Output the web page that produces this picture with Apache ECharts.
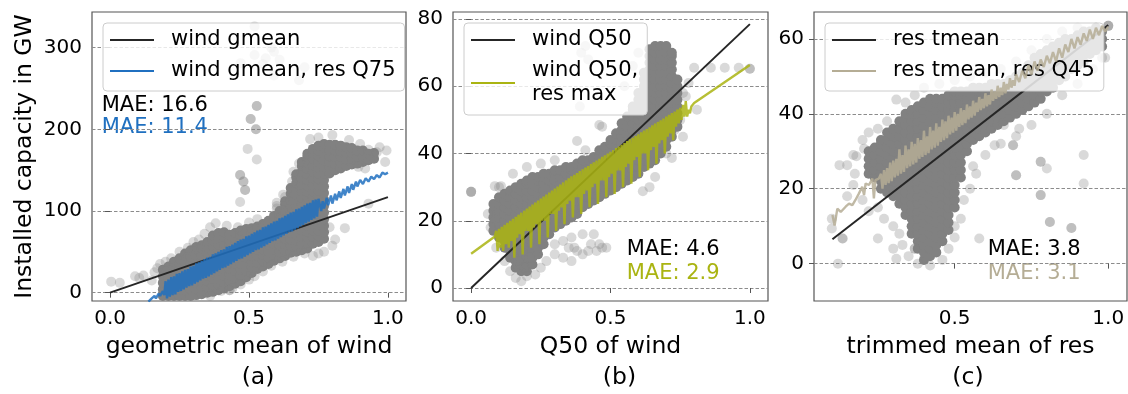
<!DOCTYPE html>
<html>
<head>
<meta charset="utf-8">
<script src="https://cdn.jsdelivr.net/npm/echarts@6/dist/echarts.min.js"></script>
<style>
html, body { margin: 0; padding: 0; background: #fff; }
#chart { width: 1128px; height: 394px; }
</style>
</head>
<body>
<div id="chart"></div>
<script>
// ---- data ----
// fitted straight lines
var blackA = [[0, 0], [1, 117]];
var blackB = [[0, 0], [1, 78.5]];
var blackC = [[0.102, 6.5], [1, 63.7]];

// jagged model lines
var blueA = [[0.138,-11],[0.15,-7],[0.16,-4],[0.165,-7],[0.175,-1],[0.18,-4],[0.19,2],[0.195,-3],
  [0.2,14],[0.205,-7],[0.21,16],[0.215,-5],[0.22,19],[0.225,-3],[0.23,20],[0.235,-2],[0.24,23],[0.245,1],[0.25,24],[0.255,2],
  [0.26,26],[0.265,4],[0.27,28],[0.275,6],[0.28,29],[0.285,8],[0.29,32],[0.295,9],[0.3,33],[0.305,11],
  [0.31,36],[0.315,13],[0.32,37],[0.325,15],[0.33,39],[0.335,17],[0.34,41],[0.345,18],[0.35,43],[0.355,20],
  [0.36,44],[0.365,22],[0.37,47],[0.375,24],[0.38,48],[0.385,26],[0.39,50],[0.395,28],[0.4,52],[0.405,30],
  [0.41,53],[0.415,31],[0.42,56],[0.425,33],[0.43,57],[0.435,35],[0.44,59],[0.445,37],[0.45,61],[0.455,39],
  [0.46,63],[0.465,41],[0.47,65],[0.475,42],[0.48,66],[0.485,44],[0.49,69],[0.495,46],[0.5,70],[0.505,48],
  [0.51,72],[0.515,50],[0.52,74],[0.525,52],[0.53,76],[0.535,53],[0.54,77],[0.545,55],[0.55,80],[0.555,57],
  [0.56,81],[0.565,59],[0.57,83],[0.575,61],[0.58,85],[0.585,63],[0.59,87],[0.595,64],[0.6,88],[0.605,66],
  [0.61,91],[0.615,68],[0.62,92],[0.625,70],[0.63,94],[0.635,72],[0.64,96],[0.645,74],[0.65,98],[0.655,75],
  [0.66,99],[0.665,77],[0.67,102],[0.675,79],[0.68,103],[0.685,81],[0.69,105],[0.695,83],[0.7,107],[0.705,85],
  [0.71,109],[0.715,87],[0.72,110],[0.725,89],[0.73,113],[0.735,91],[0.74,114],[0.745,93],[0.75,115],
  [0.76,100],[0.765,112],[0.77,103],[0.78,116],[0.785,107],[0.795,119],[0.8,109],[0.81,121],[0.815,113],
  [0.825,124],[0.83,116],[0.84,127],[0.845,119],[0.855,130],[0.86,122],[0.87,133],[0.875,126],[0.885,136],
  [0.89,130],[0.9,138],[0.91,133],[0.92,140],[0.93,136],[0.94,142],[0.95,139],[0.96,144],[0.97,141],
  [0.98,147],[0.99,145],[1.0,147]];

var oliveB = [[0,10.2],[0.085,15.3],[0.09,17],[0.095,11],[0.1,17.6],[0.105,12],[0.11,18.2],[0.115,11],[0.12,18.8],[0.125,13],
  [0.13,19.4],[0.135,12],[0.14,20],[0.145,14],[0.15,20.6],[0.155,9],[0.16,21.2],[0.165,15],[0.17,21.8],[0.175,16],
  [0.18,22.4],[0.185,10],[0.19,23],[0.195,17],[0.2,23.6],[0.205,17],[0.21,24.2],[0.215,12],[0.22,24.8],[0.225,18],
  [0.23,25.4],[0.235,19],[0.24,26],[0.245,13],[0.25,26.6],[0.255,20],[0.26,27.2],[0.265,20],[0.27,27.8],[0.275,15],
  [0.28,28.4],[0.285,22],[0.29,29],[0.295,22],[0.3,29.6],[0.305,17],[0.31,30.2],[0.315,23],[0.32,30.8],[0.325,24],
  [0.33,31.4],[0.335,19],[0.34,32],[0.345,25],[0.35,32.6],[0.355,26],[0.36,33.2],[0.365,21],[0.37,33.7],[0.375,27],
  [0.38,34.2],[0.385,27],[0.39,34.8],[0.395,22],[0.4,35.3],[0.405,28],[0.41,35.8],[0.415,29],[0.42,36.3],[0.425,24],
  [0.43,36.9],[0.435,30],[0.44,37.4],[0.445,31],[0.45,37.9],[0.455,25],[0.46,38.4],[0.465,32],[0.47,39],[0.475,32],
  [0.48,39.5],[0.485,27],[0.49,40],[0.495,33],[0.5,40.5],[0.505,34],[0.51,41],[0.515,28],[0.52,41.6],[0.525,35],
  [0.53,42.1],[0.535,35],[0.54,42.6],[0.545,30],[0.55,43.1],[0.555,36],[0.56,43.7],[0.565,37],[0.57,44.2],[0.575,31],
  [0.58,44.7],[0.585,38],[0.59,45.2],[0.595,39],[0.6,45.7],[0.605,33],[0.61,46.3],[0.615,40],[0.62,46.8],[0.625,40],
  [0.63,47.3],[0.635,35],[0.64,47.8],[0.645,41],[0.65,48.4],[0.655,42],[0.66,48.9],[0.665,37],[0.67,49.4],[0.675,43],
  [0.68,49.9],[0.685,44],[0.69,50.4],[0.695,40],[0.7,51],[0.705,45],[0.71,51.5],[0.715,46],[0.72,52],[0.725,44],
  [0.73,52.5],[0.735,48],[0.74,53.1],[0.745,49],[0.75,53.6],[0.755,50],[0.76,54.5],[0.765,51],[0.77,55.6],[0.775,51],
  [0.78,53],[0.785,52],[0.79,54],[0.8,55],[1.0,66.3]];

var tanC = [[0.102,13],[0.109,10.2],[0.118,14.7],[0.129,13.8],[0.145,15.2],[0.156,16],[0.167,15.6],[0.177,17],[0.188,18.7],[0.199,20.5],[0.205,18.3],[0.21,21.4],[0.221,21],[0.232,22.7],[0.237,17.4],[0.242,22.3],[0.253,22.7],[0.26,24],[0.265,20],[0.27,25],[0.275,21],[0.28,25.5],[0.285,21.5],[0.29,27],[0.295,22],[0.3,27.5],[0.305,23],[0.31,28],[0.315,23.5],[0.32,30.5],[0.325,24],[0.33,29],[0.335,24.5],[0.34,31.5],[0.345,25.5],[0.35,30.5],[0.355,26],[0.36,32.5],[0.365,26.5],[0.37,32],[0.375,27],[0.38,33.5],[0.385,28],[0.39,33],[0.395,28.5],[0.4,35.5],[0.405,29],[0.41,34],[0.415,29.5],[0.42,36.5],[0.425,30.5],[0.43,35.5],[0.435,31],[0.44,37.5],[0.445,31.5],[0.45,36.5],[0.455,32.5],[0.46,38.5],[0.465,33],[0.47,38],[0.475,33.5],[0.48,39.5],[0.485,34.5],[0.49,39],[0.495,35],[0.5,40.5],[0.505,35.5],[0.51,40],[0.515,36.5],[0.52,41.5],[0.525,37],[0.53,41],[0.535,37.5],[0.54,42.5],[0.545,38.5],[0.55,42],[0.555,39],[0.56,43.5],[0.565,39.5],[0.57,43],[0.575,40.5],[0.58,44.5],[0.585,41],[0.59,44],[0.595,41.5],[0.6,45.5],[0.605,42],[0.61,45],[0.615,42.5],[0.62,46.5],[0.625,43.5],[0.63,46],[0.635,44],[0.64,47.5],[0.645,44.5],[0.65,47],[0.655,45],[0.66,48.5],[0.665,45.5],[0.67,48],[0.675,46.5],[0.68,49.5],[0.685,47],[0.69,49],[0.695,47.5],[0.7,50.5],[0.71,48.5],[0.72,51.5],[0.73,49.5],[0.74,53],[0.75,50.5],[0.76,54],[0.77,51.5],[0.78,54.5],[0.79,52.5],[0.8,55.5],[0.81,53.5],[0.82,56.5],[0.83,54],[0.84,57.5],[0.85,55],[0.86,58.5],[0.87,56.5],[0.88,60],[0.89,57.5],[0.9,60.5],[0.91,58.5],[0.92,61.5],[0.93,59.5],[0.94,62.5],[0.95,60],[0.96,63],[0.97,61],[0.98,63.5],[0.99,62],[1.0,63.3]];

// dense part of each scatter cloud: [x, y, y, y, ...]
var coreA = [
  [0.19,-4,4,12,20,28],[0.21,-4,3,10,17,24,32],[0.23,-4,3,10,17,24,31,38],[0.25,-4,4,12,20,28,36,42],
  [0.27,-4,3,10,17,24,31,38,45,48],[0.29,-4,4,12,20,28,36,44,52],[0.31,-3,4,11,18,25,32,39,46,53,56],
  [0.33,-2,6,14,22,30,38,46,54,58],[0.35,0,7,14,21,28,35,42,49,56,62],[0.37,1,9,17,25,33,41,49,57,64,70],
  [0.39,3,10,17,24,31,38,45,52,59,66,73],[0.41,5,13,21,29,37,45,53,61,68,74],[0.43,8,15,22,29,36,43,50,57,64,71],
  [0.45,11,19,27,35,43,51,59,66,73],[0.47,14,21,28,35,42,49,56,63,70,76],[0.49,19,27,35,43,51,59,67,74,78],
  [0.51,24,31,38,45,52,59,66,73,79],[0.53,29,37,45,53,61,69,76,81],[0.55,32,39,46,53,60,67,74,81,84],
  [0.57,35,43,51,59,67,75,82,88],[0.59,39,46,53,60,67,74,81,88,94],[0.61,42,50,58,66,74,82,90,96,100],
  [0.63,45,52,59,66,73,80,87,94,101,108,112],[0.65,49,57,65,73,81,89,97,105,113,121,128],
  [0.67,50,57,64,71,78,85,92,99,106,113,120,127,134,141,145],
  [0.69,52,60,68,76,84,92,100,108,116,124,132,140,148,155,160],
  [0.71,54,61,68,75,82,89,96,103,110,117,124,131,138,145,152,159,166,170],
  [0.73,60,68,76,84,92,100,108,116,124,132,140,148,156,164,171,176],
  [0.75,62,69,76,83,90,97,104,111,118,125,132,139,146,153,160,167,174,180],
  [0.77,66,74,82,90,98,106,114,122,130,138,146,154,162,170,177,182],
  [0.79,146,153,160,167,174,181],[0.81,150,158,166,174,181],[0.83,152,159,166,173,180],[0.85,155,163,171,178],
  [0.87,157,164,171,177],[0.89,158,166,174],[0.91,160,167,174],[0.93,162,170],[0.95,164,171]
];
var coreB = [
  [0.08,17,19,21,23,25],[0.10,15,17,19,21,23,25,27],[0.12,12,14,16,18,20,22,24,26,28],
  [0.14,9,11,13,15,17,19,21,23,25,27,29],[0.16,6,8,10,12,14,16,18,20,22,24,26,28,30],
  [0.18,5,7,9,11,13,15,17,19,21,23,25,27,29,31],[0.20,5,7,9,11,13,15,17,19,21,23,25,27,29,31,32],
  [0.22,7,9,11,13,15,17,19,21,23,25,27,29,31,33],[0.24,10,12,14,16,18,20,22,24,26,28,30,32,33],
  [0.26,13,15,17,19,21,23,25,27,29,31,33,34],[0.28,16,18,20,22,24,26,28,30,32,34],
  [0.30,18,20,22,24,26,28,30,32,34,35],[0.32,19,21,23,25,27,29,31,33,35],[0.34,20,22,24,26,28,30,32,34,36],
  [0.36,21,23,25,27,29,31,33,35,36],[0.38,22,24,26,28,30,32,34,36,37],[0.40,24,26,28,30,32,34,36,38],
  [0.42,25,27,29,31,33,35,37,38],[0.44,26,28,30,32,34,36,38,39],[0.46,27,29,31,33,35,37,39,41],
  [0.48,28,30,32,34,36,38,40,42],[0.50,29,31,33,35,37,39,41,43,44],[0.52,30,32,34,36,38,40,42,44,46],
  [0.54,31,33,35,37,39,41,43,45,47,49],[0.56,32,34,36,38,40,42,44,46,48,50,51],
  [0.58,33,35,37,39,41,43,45,47,49,51,53,54],[0.60,34,36,38,40,42,44,46,48,50,52,54,56,58],
  [0.62,36,38,40,42,44,46,48,50,52,54,56,58,60,62,64],
  [0.64,37,39,41,43,45,47,49,51,53,55,57,59,61,63,65,67,69,71],
  [0.66,38,40,42,44,46,48,50,52,54,56,58,60,62,64,66,68,70,72],
  [0.68,40,42,44,46,48,50,52,54,56,58,60,62,64,66,68,70,72],
  [0.70,42,44,46,48,50,52,54,56,58,60,62,64,66,68,70,72],
  [0.72,45,47,49,51,53,55,57,59,61,63,65,67,69,70],[0.74,48,50,52,54,56,58,60,62]
];
var coreC = [
  [0.22,24,26,28,30],[0.24,23,25,27,29,31],[0.26,20,22,24,26,28,30,32,33],[0.28,19,21,23,25,27,29,31,33,35],
  [0.30,18,20,22,24,26,28,30,32,34,36],[0.32,16,18,20,22,24,26,28,30,32,34,36,38],
  [0.34,13,15,17,19,21,23,25,27,29,31,33,35,37,39,40],
  [0.36,8,10,12,14,16,18,20,22,24,26,28,30,32,34,36,38,40,41],
  [0.38,4,6,8,10,12,14,16,18,20,22,24,26,28,30,32,34,36,38,40,42],
  [0.40,1,3,5,7,9,11,13,15,17,19,21,23,25,27,29,31,33,35,37,39,41,43],
  [0.42,2,4,6,8,10,12,14,16,18,20,22,24,26,28,30,32,34,36,38,40,42,44],
  [0.44,3,5,7,9,11,13,15,17,19,21,23,25,27,29,31,33,35,37,39,41,43,44],
  [0.46,6,8,10,12,14,16,18,20,22,24,26,28,30,32,34,36,38,40,42,44],
  [0.48,9,11,13,15,17,19,21,23,25,27,29,31,33,35,37,39,41,43,45],
  [0.50,15,17,19,21,23,25,27,29,31,33,35,37,39,41,43,45,46],
  [0.52,23,25,27,29,31,33,35,37,39,41,43,45,46],[0.54,30,32,34,36,38,40,42,44,46],
  [0.56,33,35,37,39,41,43,45,47],[0.58,34,36,38,40,42,44,46,47],[0.60,35,37,39,41,43,45,47],
  [0.62,36,38,40,42,44,46,48],[0.64,37,39,41,43,45,47,48],[0.66,38,40,42,44,46,48],[0.68,39,41,43,45,47,49],
  [0.70,40,42,44,46,48,50],[0.72,41,43,45,47,49,51],[0.74,42,44,46,48,50,52,53],[0.76,43,45,47,49,51,53,55],
  [0.78,44,46,48,50,52,54,56],[0.80,46,48,50,52,54,56,57],[0.82,47,49,51,53,55,57,58],[0.84,49,51,53,55,57,59],
  [0.86,50,52,54,56,58,60],[0.88,52,54,56,58,60],[0.90,53,55,57,59,61],[0.92,54,56,58,60,62],
  [0.94,56,58,60,62],[0.96,57,59,61,63],[0.98,58,60,62]
];

// sparse points around the clouds
var looseA = [[0.004,13.5],[0.035,12],[0.09,20],[0.12,21],[0.105,18],[0.15,15],[0.16,25],[0.17,30],[0.18,35],[0.2,38],[0.22,42],[0.25,50],[0.28,55],[0.3,62],[0.32,65],[0.34,72],[0.36,80],[0.38,85],[0.42,82],[0.46,80],[0.5,86],[0.53,90],
  [0.43,3],[0.43,3],[0.47,281],[0.52,291],[0.56,287],[0.59,295],[0.61,285],[0.70,276],[0.59,266],[0.68,260],[0.52,326],[0.55,280],[0.58,300],
  [0.528,228.5],[0.528,228.5],[0.506,212.6],[0.506,212.6],[0.525,200],[0.525,200],[0.495,176],[0.528,163],
  [0.468,144],[0.468,144],[0.48,136],[0.48,136],[0.486,125.7],[0.486,125.7],[0.468,111],[0.623,120],[0.60,106],[0.6,110],
  [0.80,193],[0.86,187],[0.93,175],[0.995,174],[0.96,172],[0.99,160],[0.97,178],[0.9,182],[0.75,190],[0.72,188],
  [0.845,79],[0.80,57.5],[0.93,109],[0.81,65],[0.79,80],[0.77,50],[0.75,48],[0.73,45],[0.7,48],[0.66,44],[0.62,38],[0.58,33],[0.55,26],[0.52,20],[0.5,16],[0.47,10],[0.44,5],[0.4,2],[0.36,-4],
  [0.68,158],[0.66,148],[0.655,136],[0.63,117],[0.6,103],[0.62,101],[0.894,154],[0.918,152]];
var looseB = [[0,28.6],[0,28.6],[0,28.6],[0.085,30.3],[0.107,30.3],[0.06,22],[0.07,18],[0.09,12],[0.12,8],[0.14,5],[0.16,3],[0.18,2],[0.2,3.5],[0.23,4],[0.25,6],[0.27,8],[0.3,10],[0.33,9],[0.36,8],[0.37,12],[0.4,10],[0.43,13],[0.45,11],[0.47,12],[0.485,12],[0.44,16],[0.4,16],[0.36,15],[0.33,14],[0.3,13],
  [0.35,12],[0.38,11],[0.42,11],[0.46,13],[0.17,8],[0.19,6],[0.21,9],
  [0.395,70],[0.41,72],[0.42,68],[0.39,54],[0.46,48.5],[0.41,41],
  [0.80,65.5],[0.86,65.5],[0.91,65.5],[0.96,65.5],[1.0,65.2],[1.0,65.2],[0.78,61],[0.76,58],[0.77,57],[0.81,53],[0.76,45],[0.68,43],[0.72,38.7],[0.616,28.8],[0.64,30],[0.66,33],[0.7,40],[0.75,50],[0.73,47],[0.38,43.7],[0.47,48],[0.3,38],[0.25,37],[0.2,36],[0.15,34],[0.1,30],[0.55,60],[0.58,66],[0.6,70]];
var looseC = [[0.10,12],[0.10,9.4],[0.135,6.7],[0.135,6.7],[0.12,0],[0.125,26.3],[0.15,26.3],[0.17,29],[0.205,30.7],[0.25,6.7],[0.30,4],[0.31,1.3],[0.37,4],[0.37,4],[0.58,6.7],[0.63,31.6],[0.69,31.6],[0.69,31.6],[0.78,27.2],[0.78,27.2],[0.80,25.4],[0.70,23.6],[0.70,23.6],[0.78,18.3],[0.78,18.3],[0.81,11.1],[0.81,11.1],[0.88,9.5],[0.88,9.5],[0.92,29],[0.92,21.4],[0.57,24],[0.71,36],[0.66,37],
  [0.2,33],[0.22,35],[0.25,36],[0.28,38],[0.31,43.8],[0.34,43],[0.37,45],[0.4,47],[0.45,48],[0.5,49],[0.55,50],[0.6,51],[0.65,52],[0.7,54],[0.75,57],[0.8,60],[0.85,62],[0.9,63],[0.95,62],[1.0,63.5],[1.0,63.5],[1.0,63.5],[0.99,55],
  [0.15,18],[0.17,21],[0.2,17],[0.22,14],[0.25,15],[0.27,12],[0.3,10],[0.32,8],[0.33,5],[0.35,2],[0.38,0],[0.42,-0.5],[0.46,1],[0.48,4],[0.5,7],[0.52,12],[0.53,17],[0.55,20],[0.56,26],[0.6,29],[0.65,32],[0.7,34],[0.75,37],[0.8,40],[0.85,45],[0.9,48],[0.95,52],[0.98,55],[0.5,10],[0.175,24],[0.18,28.7]];

var xTicksAB = [0, 0.5, 1];
var xTicksC = [0.5, 1];
var yTicksA = [0, 100, 200, 300];
var yTicksB = [0, 20, 40, 60, 80];
var yTicksC = [0, 20, 40, 60];

var maeA = ['MAE: 16.6', 'MAE: 11.4'];
var maeB = ['MAE: 4.6', 'MAE: 2.9'];
var maeC = ['MAE: 3.8', 'MAE: 3.1'];

// ---- chart ----
var FONT = '"DejaVu Sans", sans-serif';
var GRAY = '#818181';
var BLUE = '#2070c0', OLIVE = '#aab412', TAN = '#b5ad95', DARK = '#262626';

function flat(cols) {
  var out = [];
  cols.forEach(function (c) {
    for (var i = 1; i < c.length; i++) out.push([c[0], c[i]]);
  });
  return out;
}

function xAx(gi, min, max, ticks, name) {
  return {
    type: 'value', gridIndex: gi, min: min, max: max,
    name: name, nameLocation: 'middle', nameGap: 34,
    nameTextStyle: { fontSize: 23.5, color: '#000', fontFamily: FONT },
    axisLine: { show: false },
    axisTick: { show: true, length: 5, customValues: ticks, lineStyle: { color: '#555' } },
    axisLabel: { customValues: ticks, margin: 8, fontSize: 20, color: '#000', fontFamily: FONT,
      formatter: function (v) { return v.toFixed(1); } },
    splitLine: { show: false }
  };
}
function yAx(gi, min, max, ticks, name) {
  return {
    type: 'value', gridIndex: gi, min: min, max: max,
    name: name || '', nameLocation: 'middle', nameGap: 55,
    nameTextStyle: { fontSize: 23.5, color: '#000', fontFamily: FONT },
    axisLine: { show: false },
    axisTick: { show: true, length: 5, customValues: ticks, lineStyle: { color: '#555' } },
    axisLabel: { customValues: ticks, margin: 10, fontSize: 20, color: '#000', fontFamily: FONT },
    splitLine: { show: true, lineStyle: { color: '#8c8c8c', width: 1, type: [3.5, 2] } }
  };
}
function cloud(gi, data, op) {
  return { type: 'scatter', xAxisIndex: gi, yAxisIndex: gi, data: data, symbolSize: 10,
    itemStyle: { color: GRAY, opacity: op }, silent: true, z: 2 };
}
function line(gi, name, data, color, width, z, op) {
  return { type: 'line', name: name, xAxisIndex: gi, yAxisIndex: gi, data: data,
    symbol: 'none', showSymbol: false, silent: true, z: z,
    lineStyle: { color: color, width: width, opacity: op }, itemStyle: { color: color } };
}
function legend(left, names) {
  return { orient: 'vertical', left: left, top: 23, data: names, selectedMode: false,
    icon: 'rect', itemWidth: 44, itemHeight: 2, itemGap: 7, padding: [5, 9, 8, 7],
    backgroundColor: 'rgba(255,255,255,0.8)', borderColor: '#cccccc', borderWidth: 1, borderRadius: 4,
    textStyle: { fontSize: 21, lineHeight: 24, color: '#000', fontFamily: FONT, padding: [0, 0, 0, 12] } };
}
function txt(x, y, s, color, size) {
  return { type: 'text', x: x, y: y, silent: true,
    style: { text: s, fill: color, font: (size || 21) + 'px ' + FONT,
      textVerticalAlign: 'middle', verticalAlign: 'middle' } };
}
function ctxt(x, y, s) {
  var t = txt(x, y, s, '#000', 23.5);
  t.style.textAlign = 'center'; t.style.align = 'center';
  return t;
}

var gridBase = { show: true, borderColor: '#555', borderWidth: 1.2, backgroundColor: 'transparent', outerBoundsMode: 'none' };

var option = {
  animation: false,
  grid: [
    Object.assign({ left: 92, top: 12, width: 314, height: 289 }, gridBase),
    Object.assign({ left: 453, top: 12, width: 315, height: 289 }, gridBase),
    Object.assign({ left: 814, top: 12, width: 313, height: 289 }, gridBase)
  ],
  xAxis: [
    xAx(0, -0.065, 1.065, xTicksAB, 'geometric mean of wind'),
    xAx(1, -0.065, 1.065, xTicksAB, 'Q50 of wind'),
    xAx(2, 0.042, 1.061, xTicksC, 'trimmed mean of res')
  ],
  yAxis: [
    yAx(0, -10.2, 343.6, yTicksA, 'Installed capacity in GW'),
    yAx(1, -3.87, 82.1, yTicksB),
    yAx(2, -9.98, 67.2, yTicksC)
  ],
  legend: [
    legend(103, ['wind gmean', 'wind gmean, res Q75']),
    legend(464, ['wind Q50', 'wind Q50,\nres max']),
    legend(825, ['res tmean', 'res tmean, res Q45'])
  ],
  series: [
    cloud(0, flat(coreA), 1), cloud(0, looseA, 0.3),
    line(0, 'wind gmean', blackA, DARK, 2, 3, 1),
    line(0, 'wind gmean, res Q75', blueA, BLUE, 2.4, 4, 0.85),
    cloud(1, flat(coreB), 1), cloud(1, looseB, 0.3),
    line(1, 'wind Q50', blackB, DARK, 2, 3, 1),
    line(1, 'wind Q50,\nres max', oliveB, OLIVE, 2.4, 4, 0.85),
    cloud(2, flat(coreC), 1), cloud(2, looseC, 0.3),
    line(2, 'res tmean', blackC, DARK, 2, 3, 1),
    line(2, 'res tmean, res Q45', tanC, TAN, 2.4, 4, 0.85)
  ],
  graphic: [
    txt(101.7, 106, maeA[0], '#000'), txt(101.7, 128, maeA[1], BLUE),
    txt(626.7, 250, maeB[0], '#000'), txt(626.7, 274, maeB[1], OLIVE),
    txt(987.7, 250, maeC[0], '#000'), txt(987.7, 274, maeC[1], TAN),
    ctxt(258, 378, '(a)'), ctxt(619.5, 378, '(b)'), ctxt(968, 378, '(c)')
  ]
};

var myChart = echarts.init(document.getElementById('chart'));
myChart.setOption(option);
</script>
</body>
</html>
